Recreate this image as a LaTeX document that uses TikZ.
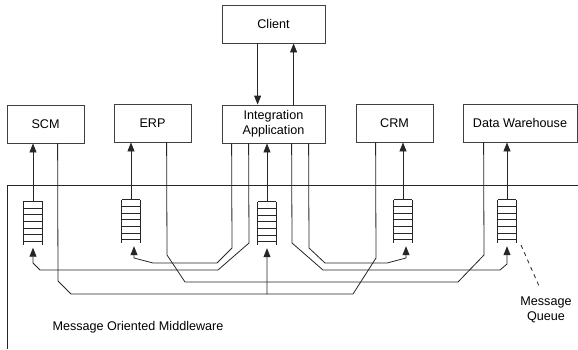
\documentclass[tikz,border=0pt]{standalone}
\usepackage{fontspec}
\setmainfont{Liberation Sans}
\usetikzlibrary{arrows.meta}
\tikzset{
  box/.style={draw=black!75, line width=0.8pt, minimum width=77pt, minimum height=38pt, inner sep=0pt, align=center, font=\fontsize{12.6}{15}\selectfont},
  queuebox/.style={draw=none, minimum width=18pt, minimum height=43pt, inner sep=0pt},
  conn/.style={draw=black!85, line width=0.8pt},
  arr/.style={conn, -{Triangle[length=9pt,width=7pt]}},
  lbl/.style={font=\fontsize{12.6}{15}\selectfont, align=center, inner sep=0pt}
}
\begin{document}
\begin{tikzpicture}[x=1pt,y=-1pt]
\useasboundingbox (0,0) rectangle (578,349);
% middleware frame
\draw[conn] (578,185) -- (7,185) -- (7,349);
% boxes
\node[box] (scm) at (45.5,124) {SCM};
\node[box] (erp) at (152.5,123) {ERP};
\node[box, minimum width=103pt] (client) at (273.5,24) {Client};
\node[box, minimum width=103pt] (ia) at (273.5,124) {Integration\\Application};
\node[box] (crm) at (394.5,123) {CRM};
\node[box, minimum width=114pt] (dw) at (520,123) {Data Warehouse};
% queues
\node[queuebox] (q1) at (33,223) {};
\node[queuebox] (q2) at (131,221.5) {};
\node[queuebox] (q3) at (267,223.5) {};
\node[queuebox] (q4) at (403,221.5) {};
\node[queuebox] (q5) at (507,221.5) {};
\foreach \q in {q1,q2,q3,q4,q5}{
  \draw[conn] (\q.north west) -- (\q.south west);
  \draw[conn] (\q.north east) -- (\q.south east);
  \foreach \k in {0,...,6}
    \draw[conn] ([yshift=-\k*6.67pt]\q.north west) -- ([yshift=-\k*6.67pt]\q.north east);
}
% client <-> integration
\draw[arr] ([xshift=36pt]client.south west) -- ([xshift=36pt]ia.north west);
\draw[arr] ([xshift=72pt]ia.north west) -- ([xshift=72pt]client.south west);
% queues up to applications
\draw[arr] (q1.north) -- (q1.north |- scm.south);
\draw[arr] (q2.north) -- (q2.north |- erp.south);
\draw[arr] (q3.north) -- (q3.north |- ia.south);
\draw[arr] (q4.north) -- (q4.north |- crm.south);
\draw[arr] (q5.north) -- (q5.north |- dw.south);
% integration application feeds
\draw[arr] ([xshift=27pt]ia.south west) -- (249,243) -- (218,270) -- (40,270) -- (33,263) -- ([yshift=-3pt]q1.south);
\draw[arr] ([xshift=10pt]ia.south west) -- (232,248) -- (217,263) -- (153,263) -- (134,258) -- ([xshift=3pt,yshift=-3pt]q2.south);
\draw[arr] ([xshift=87pt]ia.south west) -- (309,248) -- (325,263) -- (387,263) -- (406,258) -- ([xshift=3pt,yshift=-3pt]q4.south);
\draw[arr] ([xshift=70pt]ia.south west) -- (292,243) -- (323,270) -- (500,270) -- (507,264) -- ([yshift=-3pt]q5.south);
% SCM and CRM to integration queue
\draw[arr] ([xshift=51pt]scm.south west) -- (58,281) -- (71,294) -- (267,294) -- ([yshift=-3pt]q3.south);
\draw[conn] ([xshift=20pt]crm.south west) -- (376,258) -- (353,294) -- (267,294);
% ERP to Data Warehouse
\draw[conn] ([xshift=53pt]erp.south west) -- (167,255) -- (185,282) -- (458,282) -- (484,255) -- ([xshift=21pt]dw.south west);
% labels
\coordinate (dq) at (521,245);
\node[lbl] (mq) at (546,310) {Message\\Queue};
\draw[conn, dash pattern=on 4pt off 4pt] (dq) -- (539,286);
\node[lbl] (mom) at (138,327) {Message Oriented Middleware};
\end{tikzpicture}
\end{document}
